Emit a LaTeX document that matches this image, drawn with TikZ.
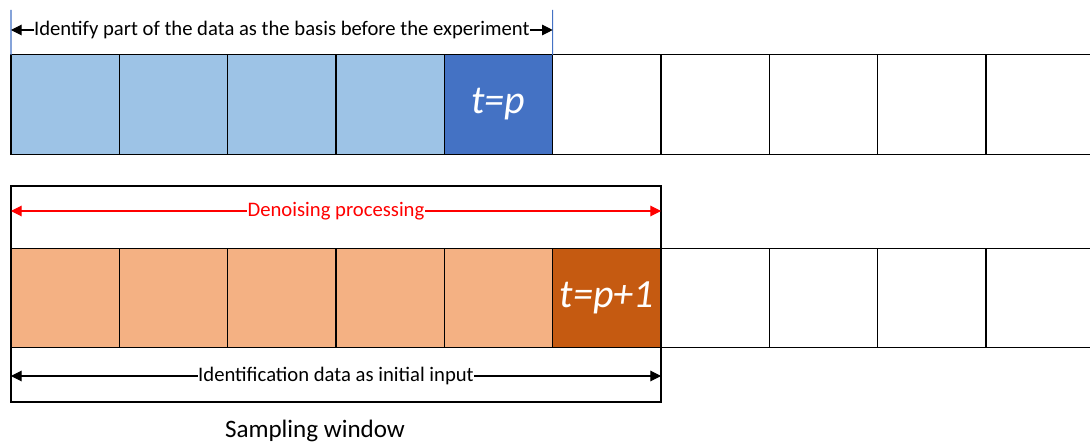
\documentclass[tikz,border=0pt]{standalone}
\usepackage{fontspec}
\setmainfont{Carlito}
\usetikzlibrary{arrows.meta}

\definecolor{basisblue}{HTML}{9DC3E6}
\definecolor{stepblue}{HTML}{4472C4}
\definecolor{inputorange}{HTML}{F4B183}
\definecolor{steporange}{HTML}{C55A11}

\begin{document}
\begin{tikzpicture}[x=0.75pt,y=-0.75pt,
    cell/.style={draw=black,line width=0.9pt,inner sep=0pt,outer sep=0pt,
      minimum width=81.25pt,minimum height=74.5pt,text=white,
      font=\fontsize{30}{34}\selectfont\itshape},
    span/.style={{Triangle[length=8pt,width=8pt]}-{Triangle[length=8pt,width=8pt]},line width=0.8pt},
    spanlabel/.style={fill=white,inner sep=0.3pt,font=\fontsize{15.5}{18}\selectfont}]
  \useasboundingbox (0,0) rectangle (1090,442);
  \clip (0,0) rectangle (1090,442);

  % upper row: basis before the experiment
  \foreach \i in {1,...,10}
    \node[cell,fill=white] (a\i) at ({11+108.33*\i-54.17},104.5) {};
  \foreach \i in {1,...,4}
    \node[cell,fill=basisblue] (a\i) at ({11+108.33*\i-54.17},104.5) {};
  \node[cell,fill=stepblue] (a5) at ({11+108.33*5-54.17},104.5) {t=p};

  \coordinate (bl) at (11,10);
  \coordinate (br) at (552.7,10);
  \draw[stepblue,line width=0.8pt] (bl) -- (a1.north west);
  \draw[stepblue,line width=0.8pt] (br) -- (a5.north east);
  \coordinate (bl2) at (11,30);
  \coordinate (br2) at (552.7,30);
  \draw[span] (bl2) -- node[spanlabel] {Identify part of the data as the basis before the experiment} (br2);

  % lower row: sampling window
  \node[draw=black,line width=0.9pt,minimum width=487.5pt,minimum height=162pt,
    inner sep=0pt] (win) at (336,294) {};
  \foreach \i in {1,...,10}
    \node[cell,fill=white] (b\i) at ({11+108.33*\i-54.17},298) {};
  \foreach \i in {1,...,5}
    \node[cell,fill=inputorange] (b\i) at ({11+108.33*\i-54.17},298) {};
  \node[cell,fill=steporange] (b6) at ({11+108.33*6-54.17},298) {t=p+1};

  \coordinate (rl) at (11,211);
  \coordinate (rr) at (661,211);
  \draw[span,red] (rl) -- node[spanlabel,text=red] {Denoising processing} (rr);
  \coordinate (il) at (11,376);
  \coordinate (ir) at (661,376);
  \draw[span] (il) -- node[spanlabel] {Identification data as initial input} (ir);

  \node[font=\fontsize{18.8}{22}\selectfont] (winlabel) at (315,431) {Sampling window};
\end{tikzpicture}
\end{document}
